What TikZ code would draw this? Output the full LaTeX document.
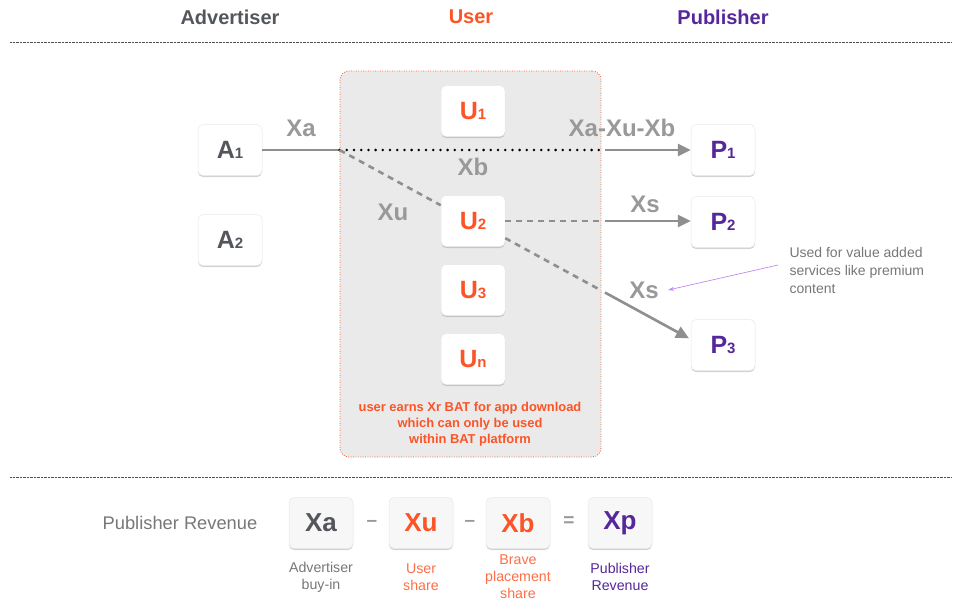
\documentclass[tikz,border=0pt]{standalone}
\usepackage{fontspec}
\setmainfont{Liberation Sans}
\usetikzlibrary{positioning,arrows.meta,shadows}

\definecolor{advgray}{HTML}{53575C}
\definecolor{userorange}{HTML}{FC5426}
\definecolor{pubpurple}{HTML}{55279A}
\definecolor{linegray}{HTML}{8F8F8F}
\definecolor{lblgray}{HTML}{999999}
\definecolor{panelgray}{HTML}{EAEAEA}
\definecolor{notepurple}{HTML}{C487EE}
\definecolor{txtgray}{HTML}{777777}

\newcommand{\boxlbl}[2]{\fontsize{25}{25}\selectfont\bfseries #1\fontsize{15}{15}\selectfont #2}

\tikzset{
  box/.style={fill=white, draw=black!9, line width=0.5pt, rounded corners=5pt,
    minimum width=64pt, minimum height=51pt, inner sep=0pt,
    drop shadow={opacity=0.35, shadow xshift=0pt, shadow yshift=-1.5pt}},
  sumbox/.style={box, fill=black!3},
  lbl/.style={text=lblgray, font=\fontsize{24}{24}\selectfont\bfseries},
  head/.style={font=\fontsize{20}{20}\selectfont\bfseries},
  captxt/.style={align=center, font=\fontsize{14.2}{17}\selectfont},
  conn/.style={draw=linegray, line width=2.6pt},
  dashconn/.style={conn, dash pattern=on 6pt off 5pt},
  arr/.style={conn, -{Triangle[length=13pt, width=12pt]}},
  sep/.style={draw=black!70, line width=0.5pt, dash pattern=on 0.7pt off 0.7pt}
}

\begin{document}
\begin{tikzpicture}[x=1pt, y=-1pt]

  \useasboundingbox (0,0) rectangle (953,600);

  \node (hA) [head, text=advgray] at (230,17) {Advertiser};
  \node (hU) [head, text=userorange] at (471,17) {User};
  \node (hP) [head, text=pubpurple] at (723,17) {Publisher};

  \draw [sep] (10,42) -- (952,42);
  \draw [sep] (10,477) -- (952,477);

  \node (UB) [draw=userorange, line width=0.8pt, dash pattern=on 0.8pt off 1.6pt,
    fill=panelgray, rounded corners=9pt, minimum width=261pt, minimum height=386pt]
    at (470.5,264) {};

  \node (A1) [box] at (230,150) {\boxlbl{\color{advgray}A}{\color{advgray}1}};
  \node (A2) [box] at (230,240) {\boxlbl{\color{advgray}A}{\color{advgray}2}};

  \node (U1) [box] at (473,111) {\boxlbl{\color{userorange}U}{\color{userorange}1}};
  \node (U2) [box] at (473,221) {\boxlbl{\color{userorange}U}{\color{userorange}2}};
  \node (U3) [box] at (473,290) {\boxlbl{\color{userorange}U}{\color{userorange}3}};
  \node (Un) [box] at (473,359) {\boxlbl{\color{userorange}U}{\color{userorange}n}};

  \node (P1) [box] at (723,150) {\boxlbl{\color{pubpurple}P}{\color{pubpurple}1}};
  \node (P2) [box] at (723,222) {\boxlbl{\color{pubpurple}P}{\color{pubpurple}2}};
  \node (P3) [box] at (723,345) {\boxlbl{\color{pubpurple}P}{\color{pubpurple}3}};

  \node (earn) [align=center, text=userorange, font=\fontsize{12.9}{16}\selectfont\bfseries]
    at (470,424) {user earns Xr BAT for app download\\which can only be used\\within BAT platform};

  \coordinate (J) at (UB.west |- A1.east);
  \coordinate (K1) at (UB.east |- A1.east);
  \coordinate (K2) at (UB.east |- U2.east);
  \coordinate (K3) at (intersection of U2.-28--P3.170 and UB.north east--UB.south east);

  \draw [conn] (A1) -- (J);
  \draw [line width=2.8pt, line cap=round, dash pattern=on 0pt off 7.2pt] (J) -- (K1);
  \draw [arr, shorten <=4pt] (K1) -- (P1);
  \draw [dashconn] (J) -- (U2.154);
  \draw [dashconn] (U2.east) -- (K2);
  \draw [arr, shorten <=4pt] (K2) -- (P2.west |- K2);
  \draw [dashconn] (U2.-28) -- (K3);
  \draw [arr, shorten <=4pt, shorten >=2pt] (K3) -- (P3.170);

  \node (lXa) [lbl] at (301,128) {Xa};
  \node (lXb) [lbl] at (473,167) {Xb};
  \node (lXu) [lbl] at (393,212) {Xu};
  \node (lXp) [lbl] at (622,128) {Xa-Xu-Xb};
  \node (lXs) [lbl] at (645,204) {Xs};
  \node (lXs2) [lbl] at (644,290) {Xs};

  \node (note) [align=left, anchor=west, text=txtgray, font=\fontsize{14}{18}\selectfont]
    at (786,270) {Used for value added\\services like premium\\content};
  \draw [notepurple, line width=0.7pt, -{Stealth[length=6pt, width=4pt]}]
    (note.west) ++(-8,-5) -- ([xshift=6pt]lXs2.east);

  \node (rev) [text=txtgray, font=\fontsize{18.3}{18}\selectfont] at (180,523) {Publisher Revenue};

  \node (sXa) [sumbox] at (321,523) {\fontsize{26}{26}\selectfont\bfseries\color{advgray}Xa};
  \node (sXu) [sumbox] at (421,523) {\fontsize{26}{26}\selectfont\bfseries\color{userorange}Xu};
  \node (sXb) [sumbox] at (518,523) {\fontsize{26}{26}\selectfont\bfseries\color{userorange}Xb};
  \node (sXp) [sumbox] at (620,523) {\fontsize{26}{26}\selectfont\bfseries\color{pubpurple}Xp};

  \node (m1) [text=lblgray, font=\fontsize{19}{19}\selectfont\bfseries] at (372,523) {--};
  \node (m2) [text=lblgray, font=\fontsize{19}{19}\selectfont\bfseries] at (470,523) {--};
  \node (eq) [text=lblgray, font=\fontsize{19}{19}\selectfont\bfseries] at (569,522) {=};

  \node (cXa) [captxt, text=txtgray] at (321,577) {Advertiser\\buy-in};
  \node (cXu) [captxt, text=userorange!85] at (421,577) {User\\share};
  \node (cXb) [captxt, text=userorange!85] at (518,577) {Brave\\placement\\share};
  \node (cXp) [captxt, text=pubpurple] at (620,577) {Publisher\\Revenue};

\end{tikzpicture}
\end{document}
